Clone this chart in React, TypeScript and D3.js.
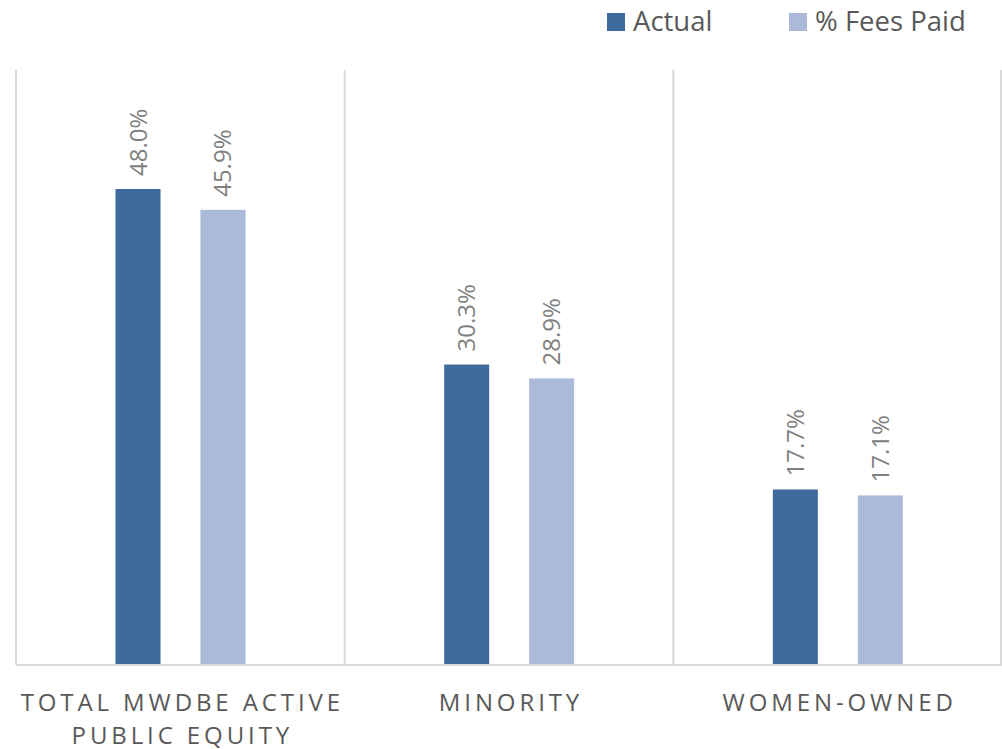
import * as d3 from 'd3'
import { useEffect, useRef } from 'react'

const categories = ['TOTAL MWDBE ACTIVE|PUBLIC EQUITY', 'MINORITY', 'WOMEN-OWNED']
const seriesNames = ['Actual', '% Fees Paid']
const actualValues = [48.0, 30.3, 17.7]
const feesValues = [45.9, 28.9, 17.1]
const seriesColors = ['#3f6a9c', '#abbad8']

const W = 1002
const H = 749

export default function App() {
    const svgRef = useRef(null) as any

    useEffect(() => {
        const svg = d3.select(svgRef.current)
        svg.selectAll('*').remove()

        const font = '"Open Sans", sans-serif'

        const xScale = d3.scaleBand()
            .domain(categories)
            .range([16, 1002])
            .padding(0)

        const inner = d3.scaleBand()
            .domain(seriesNames)
            .range([99.5, 229.5])
            .paddingInner(0.47)
            .paddingOuter(0)

        const yScale = d3.scaleLinear()
            .domain([0, 60])
            .range([665, 70])

        // grid: vertical separators between categories
        const edges = categories.map(c => xScale(c) as number).concat([xScale.range()[1] - 1])
        svg.append('g')
            .selectAll('line')
            .data(edges)
            .enter().append('line')
            .attr('x1', d => d)
            .attr('x2', d => d)
            .attr('y1', yScale(60))
            .attr('y2', yScale(0))
            .attr('stroke', '#d9d9d9')
            .attr('stroke-width', 2)

        const rows = categories.map((c, i) => ({ cat: c, vals: [actualValues[i], feesValues[i]] }))

        const groups = svg.append('g')
            .selectAll('g')
            .data(rows)
            .enter().append('g')
            .attr('transform', d => `translate(${xScale(d.cat)},0)`)

        groups.selectAll('rect')
            .data(d => d.vals.map((v, j) => ({ v, s: seriesNames[j], j })))
            .enter().append('rect')
            .attr('x', d => inner(d.s) as number)
            .attr('y', d => yScale(d.v))
            .attr('width', inner.bandwidth())
            .attr('height', d => yScale(0) - yScale(d.v))
            .attr('fill', d => seriesColors[d.j])

        groups.selectAll('text')
            .data(d => d.vals.map((v, j) => ({ v, s: seriesNames[j], j })))
            .enter().append('text')
            .attr('transform', d => {
                const cx = (inner(d.s) as number) + inner.bandwidth() / 2 + 8.5
                return `translate(${cx},${yScale(d.v) - 13}) rotate(-90)`
            })
            .attr('font-family', font)
            .attr('font-size', 24)
            .attr('fill', '#808080')
            .text(d => d.v.toFixed(1) + '%')

        // baseline
        svg.append('line')
            .attr('x1', 16)
            .attr('x2', 1002)
            .attr('y1', yScale(0))
            .attr('y2', yScale(0))
            .attr('stroke', '#d9d9d9')
            .attr('stroke-width', 2)

        // category labels
        const labels = svg.append('g')
            .selectAll('text')
            .data(categories)
            .enter().append('text')
            .attr('x', d => (xScale(d) as number) + xScale.bandwidth() / 2 + 2)
            .attr('y', 711)
            .attr('text-anchor', 'middle')
            .attr('font-family', font)
            .attr('font-size', 24)
            .attr('letter-spacing', 3.9)
            .attr('fill', '#595959')

        labels.each(function (d) {
            const parts = d.split('|')
            const t = d3.select(this)
            parts.forEach((p, i) => {
                t.append('tspan')
                    .attr('x', t.attr('x'))
                    .attr('dy', i === 0 ? 0 : 33)
                    .text(p)
            })
        })

        // legend
        const legendX = [607, 789]
        const legend = svg.append('g')
            .selectAll('g')
            .data(seriesNames)
            .enter().append('g')
            .attr('transform', (d, i) => `translate(${legendX[i]},13)`)

        legend.append('rect')
            .attr('width', 18)
            .attr('height', 18)
            .attr('fill', (d, i) => seriesColors[i])

        legend.append('text')
            .attr('x', 26)
            .attr('y', 18)
            .attr('font-family', font)
            .attr('font-size', 27.5)
            .attr('fill', '#595959')
            .text(d => d)
    }, [])

    return (
        <div style={{ position: 'absolute', left: 0, top: 0 }}>
            <svg ref={svgRef} width={W} height={H} style={{ display: 'block' }} />
        </div>
    )
}
